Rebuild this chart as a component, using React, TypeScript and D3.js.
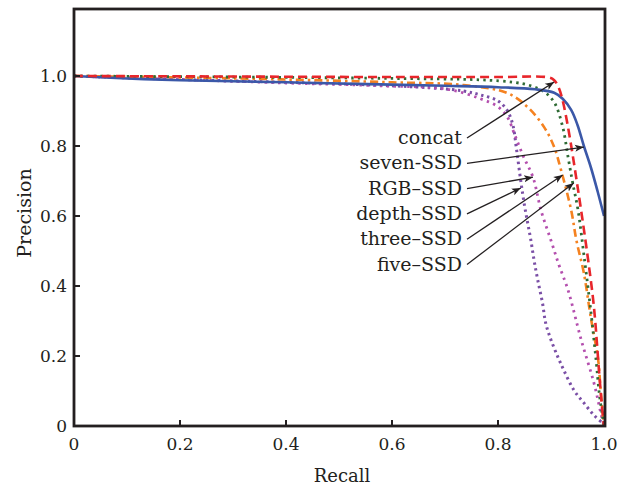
import React from 'react';
import * as d3 from 'd3';

// precision-recall points: [recall, precision]
const concatPR: [number, number][] = [
  [0, 1.0], [0.2, 0.999], [0.4, 0.998], [0.6, 0.997], [0.8, 0.997], [0.895, 0.996],
  [0.906, 0.988], [0.915, 0.965], [0.922, 0.93], [0.932, 0.855], [0.951, 0.675],
  [0.97, 0.475], [0.981, 0.34], [0.991, 0.15], [0.996, 0.06], [1.0, 0.0],
];
const sevenPR: [number, number][] = [
  [0, 1.0], [0.1, 0.993], [0.2, 0.988], [0.4, 0.982], [0.578, 0.976], [0.7, 0.972],
  [0.8, 0.968], [0.87, 0.962], [0.906, 0.952], [0.922, 0.935], [0.938, 0.903],
  [0.95, 0.86], [0.962, 0.8], [0.975, 0.74], [0.988, 0.67], [1.0, 0.6],
];
const rgbPR: [number, number][] = [
  [0, 1.0], [0.2, 0.99], [0.4, 0.98], [0.578, 0.972], [0.705, 0.962], [0.767, 0.935],
  [0.8, 0.912], [0.818, 0.882], [0.832, 0.83], [0.848, 0.77], [0.866, 0.711],
  [0.881, 0.617], [0.9, 0.53], [0.915, 0.46], [0.932, 0.389], [0.957, 0.246],
  [0.981, 0.123], [0.994, 0.037], [1.0, 0.0],
];
const depthPR: [number, number][] = [
  [0, 1.0], [0.2, 0.99], [0.4, 0.982], [0.55, 0.975], [0.673, 0.966], [0.735, 0.957],
  [0.767, 0.946], [0.8, 0.929], [0.818, 0.9], [0.828, 0.86], [0.835, 0.79],
  [0.843, 0.7], [0.85, 0.63], [0.856, 0.58], [0.862, 0.531], [0.868, 0.474],
  [0.875, 0.417], [0.884, 0.351], [0.89, 0.294], [0.9, 0.246], [0.913, 0.197],
  [0.924, 0.16], [0.943, 0.103], [0.962, 0.066], [0.981, 0.031], [1.0, 0.005],
];
const threePR: [number, number][] = [
  [0, 1.0], [0.2, 0.996], [0.4, 0.99], [0.6, 0.982], [0.735, 0.974], [0.818, 0.951],
  [0.856, 0.911], [0.887, 0.854], [0.906, 0.797], [0.919, 0.731], [0.938, 0.617],
  [0.948, 0.53], [0.962, 0.437], [0.975, 0.311], [0.989, 0.189], [0.994, 0.094],
  [1.0, 0.0],
];
const fivePR: [number, number][] = [
  [0, 1.0], [0.2, 0.998], [0.4, 0.996], [0.6, 0.993], [0.767, 0.989], [0.83, 0.982],
  [0.862, 0.972], [0.887, 0.955], [0.906, 0.925], [0.922, 0.855], [0.932, 0.77],
  [0.941, 0.694], [0.951, 0.617], [0.962, 0.49], [0.975, 0.33], [0.985, 0.189],
  [0.991, 0.094], [0.998, 0.02], [1.0, 0.0],
];

const seriesNames = ['concat', 'seven-SSD', 'RGB\u2013SSD', 'depth\u2013SSD', 'three\u2013SSD', 'five\u2013SSD'];
// where each label's arrow points, in [recall, precision]
const arrowTargets: [number, number][] = [
  [0.906, 0.983], [0.962, 0.797], [0.866, 0.711], [0.843, 0.68], [0.922, 0.717], [0.943, 0.694],
];

const xTicks = [0, 0.2, 0.4, 0.6, 0.8, 1.0];
const yTicks = [0, 0.2, 0.4, 0.6, 0.8, 1.0];
const tickLabel = (v: number) => (v === 0 ? '0' : v.toFixed(1));

const W = 628;
const H = 488;
const FONT = '"DejaVu Serif", serif';
const INK = '#231f20';

export default function App() {
  const x = d3.scaleLinear().domain([0, 1]).range([74, 604]);
  const y = d3.scaleLinear().domain([0, 1]).range([426, 76]);
  const top = 9;
  const right = 605;

  const line = d3
    .line<[number, number]>()
    .x(d => x(d[0]))
    .y(d => y(d[1]))
    .curve(d3.curveCatmullRom.alpha(0.5));

  // drawn back to front
  const curves = [
    { data: depthPR, color: '#7a4fa6', width: 3, dash: '2.4,3.6' },
    { data: rgbPR, color: '#b44fae', width: 2.8, dash: '2.4,4.4' },
    { data: threePR, color: '#f58220', width: 2.6, dash: '8,4,2.5,4' },
    { data: fivePR, color: '#2f6b35', width: 2.8, dash: '2.4,4.2' },
    { data: sevenPR, color: '#3b58a8', width: 2.6, dash: null },
    { data: concatPR, color: '#e8262b', width: 2.6, dash: '9,5' },
  ];

  const labelRight = 462;
  const labelY0 = 144;
  const labelStep = 25.3;

  return (
    <div style={{ position: 'absolute', left: 0, top: 0 }}>
      <svg width={W} height={H} style={{ display: 'block', background: '#fff' }}>
        <defs>
          <marker id="arr" viewBox="0 0 10 10" refX="10" refY="5" markerWidth="9" markerHeight="9" markerUnits="userSpaceOnUse" orient="auto">
            <path d="M0,1 L10,5 L0,9 L2.5,5 Z" fill={INK} />
          </marker>
          <clipPath id="plot">
            <rect x={x(0)} y={top} width={right - x(0)} height={y(0) - top + 2} />
          </clipPath>
        </defs>

        <g clipPath="url(#plot)">
          {curves.map((c, i) => (
            <path
              key={i}
              d={line(c.data) || ''}
              fill="none"
              stroke={c.color}
              strokeWidth={c.width}
              strokeDasharray={c.dash || undefined}
              strokeLinecap="butt"
            />
          ))}
        </g>

        {/* frame */}
        <rect x={x(0)} y={top} width={right - x(0)} height={y(0) - top} fill="none" stroke={INK} strokeWidth={2.8} />

        {/* x ticks */}
        {xTicks.map(t => (
          <g key={'x' + t}>
            {t > 0 && t < 1 && <line x1={x(t)} x2={x(t)} y1={y(0)} y2={y(0) - 6} stroke={INK} strokeWidth={2} />}
            <text x={x(t)} y={450} textAnchor="middle" fontFamily={FONT} fontSize={17} fill={INK}>
              {tickLabel(t)}
            </text>
          </g>
        ))}
        {/* y ticks */}
        {yTicks.map(t => (
          <g key={'y' + t}>
            {t > 0 && <line x1={x(0)} x2={x(0) + 6} y1={y(t)} y2={y(t)} stroke={INK} strokeWidth={2} />}
            <text x={67} y={y(t) + 6} textAnchor="end" fontFamily={FONT} fontSize={17} fill={INK}>
              {tickLabel(t)}
            </text>
          </g>
        ))}

        <text x={342} y={482} textAnchor="middle" fontFamily={FONT} fontSize={18} fill={INK}>
          Recall
        </text>
        <text
          transform={`translate(31,${213}) rotate(-90)`}
          textAnchor="middle"
          fontFamily={FONT}
          fontSize={19}
          fill={INK}
        >
          Precision
        </text>

        {/* annotations */}
        {seriesNames.map((name, i) => {
          const ly = labelY0 + i * labelStep;
          const [tx, ty] = arrowTargets[i];
          return (
            <g key={name}>
              <text x={labelRight} y={ly} textAnchor="end" fontFamily={FONT} fontSize={19} fill={INK}>
                {name}
              </text>
              <line
                x1={labelRight + 5}
                y1={ly - 6}
                x2={x(tx)}
                y2={y(ty)}
                stroke={INK}
                strokeWidth={1.3}
                markerEnd="url(#arr)"
              />
            </g>
          );
        })}
      </svg>
    </div>
  );
}
